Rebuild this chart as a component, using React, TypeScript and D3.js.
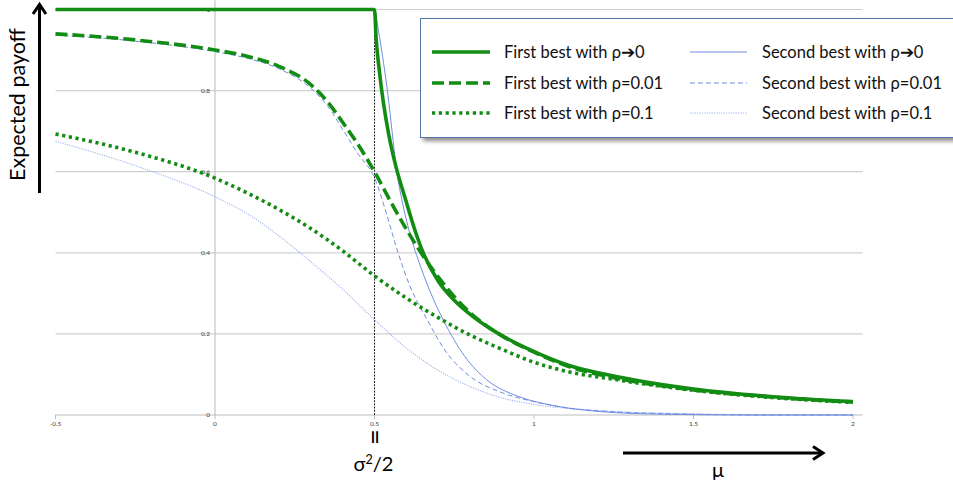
import * as d3 from 'd3';

const W = 953;
const H = 487;

// [mu, expected payoff]
const firstBestRho0: [number, number][] = [
  [-0.5, 1], [0, 1], [0.5, 1], [0.505, 0.93], [0.515, 0.85], [0.528, 0.77], [0.545, 0.69],
  [0.568, 0.61], [0.596, 0.535], [0.627, 0.455], [0.65, 0.405], [0.7, 0.33], [0.75, 0.283],
  [0.81, 0.242], [0.89, 0.2], [0.99, 0.16], [1.11, 0.122], [1.27, 0.093], [1.5, 0.064],
  [1.75, 0.045], [2, 0.033],
];
const firstBestRho001: [number, number][] = [
  [-0.5, 0.94], [-0.25, 0.925], [0, 0.9], [0.1, 0.885], [0.2, 0.86], [0.3, 0.815],
  [0.35, 0.775], [0.4, 0.722], [0.45, 0.665], [0.5, 0.6], [0.55, 0.527], [0.6, 0.458],
  [0.65, 0.395], [0.7, 0.34], [0.75, 0.292], [0.8, 0.252], [0.9, 0.195], [1, 0.155],
  [1.1, 0.122], [1.25, 0.092], [1.5, 0.062], [1.75, 0.044], [2, 0.032],
];
const firstBestRho01: [number, number][] = [
  [-0.5, 0.693], [-0.25, 0.648], [0, 0.584], [0.1, 0.548], [0.2, 0.507], [0.3, 0.46],
  [0.4, 0.405], [0.5, 0.343], [0.6, 0.288], [0.7, 0.24], [0.8, 0.197], [0.9, 0.162],
  [1, 0.13], [1.1, 0.108], [1.25, 0.088], [1.5, 0.061], [1.75, 0.043], [2, 0.031],
];
const secondBestRho0: [number, number][] = [
  [-0.5, 1], [0, 1], [0.5, 1], [0.512, 0.95], [0.528, 0.87], [0.542, 0.79], [0.555, 0.7],
  [0.568, 0.61], [0.586, 0.53], [0.61, 0.45], [0.645, 0.365], [0.685, 0.285],
  [0.725, 0.22], [0.79, 0.137], [0.85, 0.088], [0.95, 0.046], [1.05, 0.025],
  [1.2, 0.009], [1.4, 0.002], [1.7, 0], [2, 0],
];
const secondBestRho001: [number, number][] = [
  [-0.5, 0.937], [-0.25, 0.922], [0, 0.896], [0.1, 0.88], [0.2, 0.854], [0.3, 0.806],
  [0.35, 0.765], [0.4, 0.705], [0.45, 0.642], [0.5, 0.585], [0.54, 0.49], [0.57, 0.41],
  [0.61, 0.32], [0.665, 0.235], [0.725, 0.155], [0.8, 0.095], [0.9, 0.055], [1, 0.033],
  [1.1, 0.018], [1.25, 0.008], [1.5, 0.002], [1.75, 0], [2, 0],
];
const secondBestRho01: [number, number][] = [
  [-0.5, 0.675], [-0.25, 0.615], [0, 0.538], [0.1, 0.497], [0.2, 0.442], [0.3, 0.378],
  [0.4, 0.31], [0.5, 0.235], [0.6, 0.165], [0.7, 0.11], [0.8, 0.07], [0.9, 0.042],
  [1, 0.026], [1.2, 0.011], [1.5, 0.003], [1.75, 0], [2, 0],
];

const xTicks = [-0.5, 0, 0.5, 1, 1.5, 2];
const yTicks = [0, 0.2, 0.4, 0.6, 0.8, 1];
const legendLabels = [
  'First best with ρ➔0',
  'First best with ρ=0.01',
  'First best with ρ=0.1',
  'Second best with ρ➔0',
  'Second best with ρ=0.01',
  'Second best with ρ=0.1',
];

const GREEN = '#138c13';
const BLUE = '#6f8ee0';
const BLUE_LIGHT = '#9fb3ee';

const x = d3.scaleLinear().domain([-0.5, 2]).range([55.5, 853]);
const y = d3.scaleLinear().domain([0, 1]).range([415, 9.5]);

const line = d3
  .line<[number, number]>()
  .x((d) => x(d[0]))
  .y((d) => y(d[1]))
  .curve(d3.curveMonotoneX);

const series = [
  { data: secondBestRho01, color: BLUE_LIGHT, width: 1.1, dash: '1.2,1.2' },
  { data: secondBestRho001, color: BLUE, width: 1, dash: '5,3' },
  { data: secondBestRho0, color: BLUE, width: 1, dash: null },
  { data: firstBestRho01, color: GREEN, width: 3.6, dash: '3.2,3.6' },
  { data: firstBestRho001, color: GREEN, width: 3.6, dash: '12,5' },
  { data: firstBestRho0, color: GREEN, width: 3.6, dash: null },
];

const legendStyles = [series[5], series[4], series[3], series[2], series[1], series[0]];

const FONT = 'Lato, "Open Sans", sans-serif';

export default function App() {
  const legendRows = [52, 83, 113];
  return (
    <svg
      width={W}
      height={H}
      viewBox={`0 0 ${W} ${H}`}
      style={{ position: 'absolute', left: 0, top: 0, background: '#fff' }}
    >
      <defs>
        <filter id="shadow" x="-5%" y="-10%" width="110%" height="130%">
          <feGaussianBlur stdDeviation="2" />
        </filter>
      </defs>
      <rect width={W} height={H} fill="#fff" />

      {/* grid */}
      {yTicks.map((t) => (
        <line
          key={t}
          x1={x(-0.5)}
          x2={x(2.03)}
          y1={y(t)}
          y2={y(t)}
          stroke={t === 0 ? '#bdbdbd' : '#d0d0d0'}
          strokeWidth={1.2}
        />
      ))}
      <line x1={x(0)} x2={x(0)} y1={y(0)} y2={y(1.023)} stroke="#c4c4c4" strokeWidth={1.2} />
      {xTicks.map((t) => (
        <g key={t}>
          <line x1={x(t)} x2={x(t)} y1={y(0)} y2={y(0) + 4} stroke="#bdbdbd" />
          <text
            x={x(t)}
            y={y(0) + 11}
            fontSize={6.5}
            fill="#444"
            textAnchor="middle"
            fontFamily={FONT}
          >
            {t}
          </text>
        </g>
      ))}
      {yTicks.map((t) => (
        <text
          key={t}
          x={x(0) - 5}
          y={y(t) + 2.3}
          fontSize={6.5}
          fill="#444"
          textAnchor="end"
          fontFamily={FONT}
        >
          {t}
        </text>
      ))}

      {/* sigma^2/2 marker */}
      <line
        x1={x(0.5)}
        x2={x(0.5)}
        y1={y(0)}
        y2={y(1)}
        stroke="#222"
        strokeWidth={1}
        strokeDasharray="2,1.2"
      />

      {series.map((s, i) => (
        <path
          key={i}
          d={line(s.data) ?? ''}
          fill="none"
          stroke={s.color}
          strokeWidth={s.width}
          strokeDasharray={s.dash ?? undefined}
          strokeLinejoin="round"
        />
      ))}

      {/* legend */}
      <rect x={423} y={21} width={540} height={120} fill="#8a8a8a" filter="url(#shadow)" />
      <rect x={420.5} y={18.5} width={540} height={119} fill="#fff" stroke="#5878ad" strokeWidth={1} />
      {legendStyles.map((s, i) => {
        const col = i < 3 ? 0 : 1;
        const ry = legendRows[i % 3];
        const x0 = col === 0 ? 432 : 690;
        const x1 = col === 0 ? 490 : 747;
        const tx = col === 0 ? 504 : 762;
        return (
          <g key={i}>
            <line
              x1={x0}
              x2={x1}
              y1={ry}
              y2={ry}
              stroke={s.color}
              strokeWidth={s.width}
              strokeDasharray={s.dash ?? undefined}
            />
            <text x={tx} y={ry + 6} fontSize={16.5} fill="#111" fontFamily={FONT}>
              {legendLabels[i]}
            </text>
          </g>
        );
      })}

      {/* y axis title and arrow */}
      <text
        transform="translate(25,104.5) rotate(-90)"
        textAnchor="middle"
        fontSize={21.5}
        fill="#000"
        fontFamily={FONT}
      >
        Expected payoff
      </text>
      <line x1={39.5} x2={39.5} y1={193} y2={5} stroke="#000" strokeWidth={3} />
      <polyline points="33,14 39.5,4.5 46,14" fill="none" stroke="#000" strokeWidth={3} />

      {/* x annotations */}
      <text
        transform={`translate(${x(0.5) - 9},437) rotate(90)`}
        textAnchor="middle"
        fontSize={27}
        fill="#000"
        fontFamily={FONT}
      >
        =
      </text>
      <text x={x(0.5) - 1} y={471} textAnchor="middle" fontSize={20} fill="#000" fontFamily={FONT}>
        σ<tspan dy={-7} fontSize={12.5}>2</tspan>
        <tspan dy={7}>/2</tspan>
      </text>
      <line x1={623} x2={821} y1={453} y2={453} stroke="#000" strokeWidth={3} />
      <polyline points="813,446.5 823,453 813,459.5" fill="none" stroke="#000" strokeWidth={3} />
      <text x={718} y={477} textAnchor="middle" fontSize={20} fill="#000" fontFamily={FONT}>
        μ
      </text>
    </svg>
  );
}
